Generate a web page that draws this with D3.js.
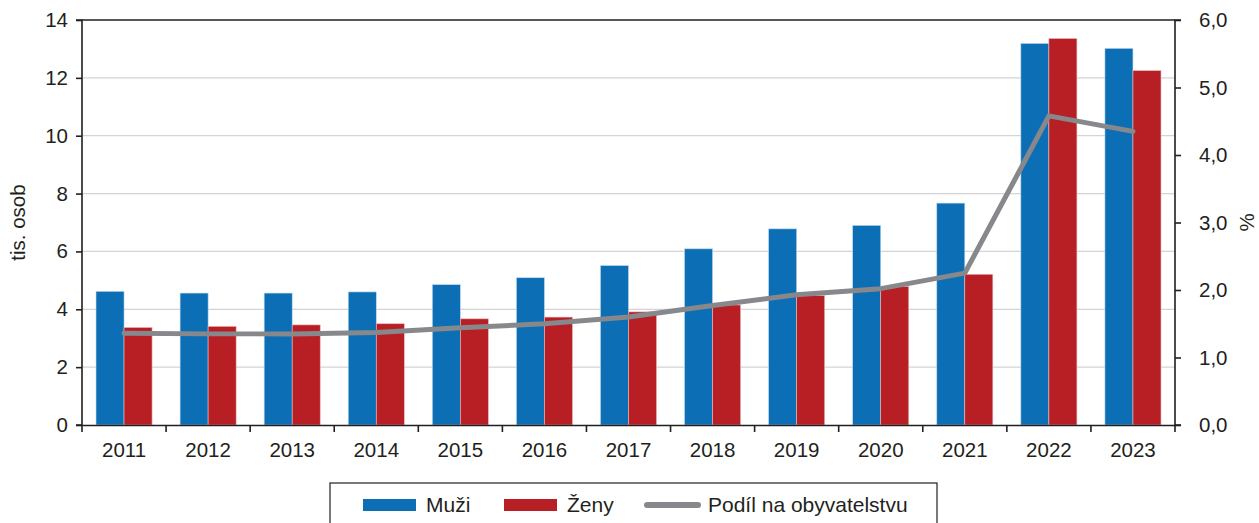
<html>
<script src='https://d3js.org/d3.v7.min.js'></script>
<style>
  body {margin: 0; background: white;}
  text {font-family: 'Liberation Sans', Arial, sans-serif; fill: #231f20;}
</style>
<body onload='init()'>
<svg width=1259 height=523>
</svg>
<script>
// values
var years = ["2011","2012","2013","2014","2015","2016","2017","2018","2019","2020","2021","2022","2023"];
var muzi  = [4.62, 4.56, 4.56, 4.60, 4.85, 5.09, 5.51, 6.09, 6.78, 6.90, 7.67, 13.19, 13.02];
var zeny  = [3.37, 3.41, 3.46, 3.50, 3.67, 3.73, 3.91, 4.15, 4.47, 4.79, 5.21, 13.36, 12.25];
var podil = [1.36, 1.35, 1.35, 1.37, 1.44, 1.50, 1.60, 1.77, 1.93, 2.02, 2.25, 4.58, 4.35];
var leftTicks  = [0, 2, 4, 6, 8, 10, 12, 14];
var rightTicks = [0, 1, 2, 3, 4, 5, 6];
var legendNames = ["Muži", "Ženy", "Podíl na obyvatelstvu"];

function init() {
  var left = 82, right = 1175, top = 20, bottom = 425;
  var blue = "#0c6eb5", red = "#b81f25", grey = "#86888c";

  var x = d3.scaleBand()
            .domain(years)
            .range([left, right]);
  var y = d3.scaleLinear()
            .domain([0, 14])
            .range([bottom, top]);
  var y2 = d3.scaleLinear()
            .domain([0, 6])
            .range([bottom, top]);

  var svg = d3.select("svg");

  // gridlines
  svg.append("g")
    .selectAll("line")
    .data(leftTicks.filter(function(d){ return d > 0 && d < 14; }))
    .enter()
    .append("line")
      .attr("x1", left).attr("x2", right)
      .attr("y1", function(d){ return y(d); })
      .attr("y2", function(d){ return y(d); })
      .style("stroke", "#d4d4d4")
      .style("stroke-width", 1.2);

  var barW = x.bandwidth() / 3;

  svg.append("g")
    .selectAll("rect")
    .data(muzi)
    .enter()
    .append("rect")
      .attr("x", function(d,i){ return x(years[i]) + x.bandwidth()/2 - barW; })
      .attr("y", function(d){ return y(d); })
      .attr("width", barW)
      .attr("height", function(d){ return bottom - y(d); })
      .style("fill", blue)
      .style("stroke", "#bcd6ee")
      .style("stroke-width", 0.6);

  svg.append("g")
    .selectAll("rect")
    .data(zeny)
    .enter()
    .append("rect")
      .attr("x", function(d,i){ return x(years[i]) + x.bandwidth()/2; })
      .attr("y", function(d){ return y(d); })
      .attr("width", barW)
      .attr("height", function(d){ return bottom - y(d); })
      .style("fill", red)
      .style("stroke", "#e8b9ba")
      .style("stroke-width", 0.6);

  var line = d3.line()
      .x(function(d,i){ return x(years[i]) + x.bandwidth()/2; })
      .y(function(d){ return y2(d); });

  svg.append("path")
    .attr("d", line(podil))
    .style("fill", "none")
    .style("stroke", grey)
    .style("stroke-width", 5)
    .style("stroke-linecap", "round")
    .style("stroke-linejoin", "round");

  // top border
  svg.append("line")
    .attr("x1", left).attr("x2", right)
    .attr("y1", top).attr("y2", top)
    .style("stroke", "#231f20").style("stroke-width", 1.6);

  var y_axis = d3.axisLeft(y).tickValues(leftTicks).tickSize(6).tickPadding(8);
  var y2_axis = d3.axisRight(y2).tickValues(rightTicks).tickSize(6).tickPadding(18)
                  .tickFormat(function(d){ return d3.format(".1f")(d).replace(".", ","); });

  var gl = svg.append("g").attr("transform", "translate(" + left + ",0)").call(y_axis);
  var gr = svg.append("g").attr("transform", "translate(" + right + ",0)").call(y2_axis);

  // x axis with ticks between categories
  var x_axis = d3.axisBottom(x).tickSize(0).tickPadding(17);
  var gx = svg.append("g").attr("transform", "translate(0," + bottom + ")").call(x_axis);
  gx.selectAll(".sep")
    .data(years.concat(["end"]))
    .enter()
    .append("line")
      .attr("class", "sep")
      .attr("x1", function(d,i){ return left + i * x.step(); })
      .attr("x2", function(d,i){ return left + i * x.step(); })
      .attr("y1", 0).attr("y2", 7)
      .style("stroke", "#231f20").style("stroke-width", 1.6);

  [gl, gr, gx].forEach(function(g){
    g.selectAll("path").style("stroke", "#231f20").style("stroke-width", 1.6);
    g.selectAll(".tick line").style("stroke", "#231f20").style("stroke-width", 1.6);
    g.selectAll("text").style("font-size", "20.5px").style("fill", "#231f20")
      .style("font-family", "'Liberation Sans', Arial, sans-serif");
  });
  gl.select(".domain").attr("d", "M-6," + top + "H0V" + bottom + "H-6");
  gr.select(".domain").attr("d", "M6," + top + "H0V" + bottom + "H6");

  // axis titles
  svg.append("text")
    .attr("transform", "translate(25," + ((top + bottom)/2) + ") rotate(-90)")
    .attr("text-anchor", "middle")
    .style("font-size", "20.5px")
    .text("tis. osob");
  svg.append("text")
    .attr("transform", "translate(1254," + ((top + bottom)/2) + ") rotate(-90)")
    .attr("text-anchor", "middle")
    .style("font-size", "20.5px")
    .text("%");

  // legend
  var lg = svg.append("g");
  lg.append("rect")
    .attr("x", 330).attr("y", 483)
    .attr("width", 607).attr("height", 60)
    .style("fill", "white").style("stroke", "#231f20").style("stroke-width", 1.2);

  var itemX = [363, 504, 645];
  var colors = [blue, red, grey];
  legendNames.forEach(function(n, i){
    if (i < 2) {
      lg.append("rect")
        .attr("x", itemX[i]).attr("y", 499)
        .attr("width", 53).attr("height", 12)
        .style("fill", colors[i]);
    } else {
      lg.append("line")
        .attr("x1", itemX[i] + 2).attr("x2", itemX[i] + 53)
        .attr("y1", 505).attr("y2", 505)
        .style("stroke", colors[i]).style("stroke-width", 6)
        .style("stroke-linecap", "round");
    }
    lg.append("text")
      .attr("x", itemX[i] + 63).attr("y", 512)
      .style("font-size", "21px")
      .text(n);
  });
}
</script>
</body>
</html>
